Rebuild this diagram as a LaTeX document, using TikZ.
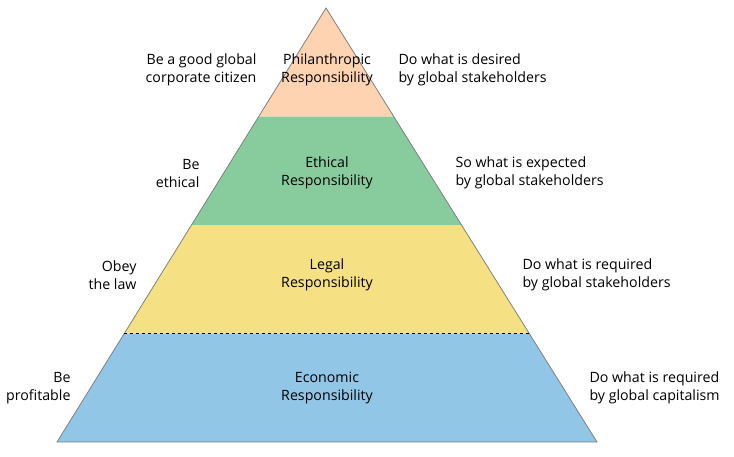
\documentclass[tikz,border=0pt]{standalone}
\usepackage{fontspec}
\setmainfont{Open Sans}
\usetikzlibrary{positioning, calc}

\definecolor{philcol}{HTML}{FDD3B1}
\definecolor{ethcol}{HTML}{88CC9E}
\definecolor{legcol}{HTML}{F5E184}
\definecolor{ecocol}{HTML}{92C6E6}
\definecolor{edgecol}{HTML}{808080}

\tikzset{
    level/.style={align=center, font=\fontsize{14.2}{18}\selectfont},
    lefttext/.style={align=right, anchor=east, font=\fontsize{14.2}{18}\selectfont},
    righttext/.style={align=left, anchor=west, font=\fontsize{14.2}{18}\selectfont}
}

\begin{document}
\begin{tikzpicture}[x=1pt, y=-1pt]
    \useasboundingbox (0,0) rectangle (734,456);

    % Corners
    \coordinate (apex) at (326,8);
    \coordinate (bl) at (57,442);
    \coordinate (br) at (597,442);

    % Level borders
    \coordinate (l1) at ($(apex)!0.25!(bl)$);
    \coordinate (r1) at ($(apex)!0.25!(br)$);
    \coordinate (l2) at ($(apex)!0.5!(bl)$);
    \coordinate (r2) at ($(apex)!0.5!(br)$);
    \coordinate (l3) at ($(apex)!0.75!(bl)$);
    \coordinate (r3) at ($(apex)!0.75!(br)$);

    % Layers
    \fill[philcol] (apex) -- (l1) -- (r1) -- cycle;
    \fill[ethcol] (l1) -- (l2) -- (r2) -- (r1) -- cycle;
    \fill[legcol] (l2) -- (l3) -- (r3) -- (r2) -- cycle;
    \fill[ecocol] (l3) -- (bl) -- (br) -- (r3) -- cycle;

    % Outline
    \draw[edgecol, line width=0.8pt] (apex) -- (bl) -- (br) -- cycle;
    \draw[dashed, line width=1.2pt] (l3) -- (r3);

    % Level names
    \node[level] (phil) at (327,70) {Philanthropic\\Responsibility};
    \node[level] (eth) at (327,173) {Ethical\\Responsibility};
    \node[level] (leg) at (327,275) {Legal\\Responsibility};
    \node[level] (eco) at (327,388) {Economic\\Responsibility};

    % Left side
    \node[lefttext] (philL) at (260,70) {Be a good global\\corporate citizen};
    \node[lefttext] (ethL) at (203,173) {Be\\ethical};
    \node[lefttext] (legL) at (140,275) {Obey\\the law};
    \node[lefttext] (ecoL) at (74,388) {Be\\profitable};

    % Right side
    \node[righttext] (philR) at (395,70) {Do what is desired\\by global stakeholders};
    \node[righttext] (ethR) at (452,173) {So what is expected\\by global stakeholders};
    \node[righttext] (legR) at (519,275) {Do what is required\\by global stakeholders};
    \node[righttext] (ecoR) at (586,388) {Do what is required\\by global capitalism};
\end{tikzpicture}
\end{document}
